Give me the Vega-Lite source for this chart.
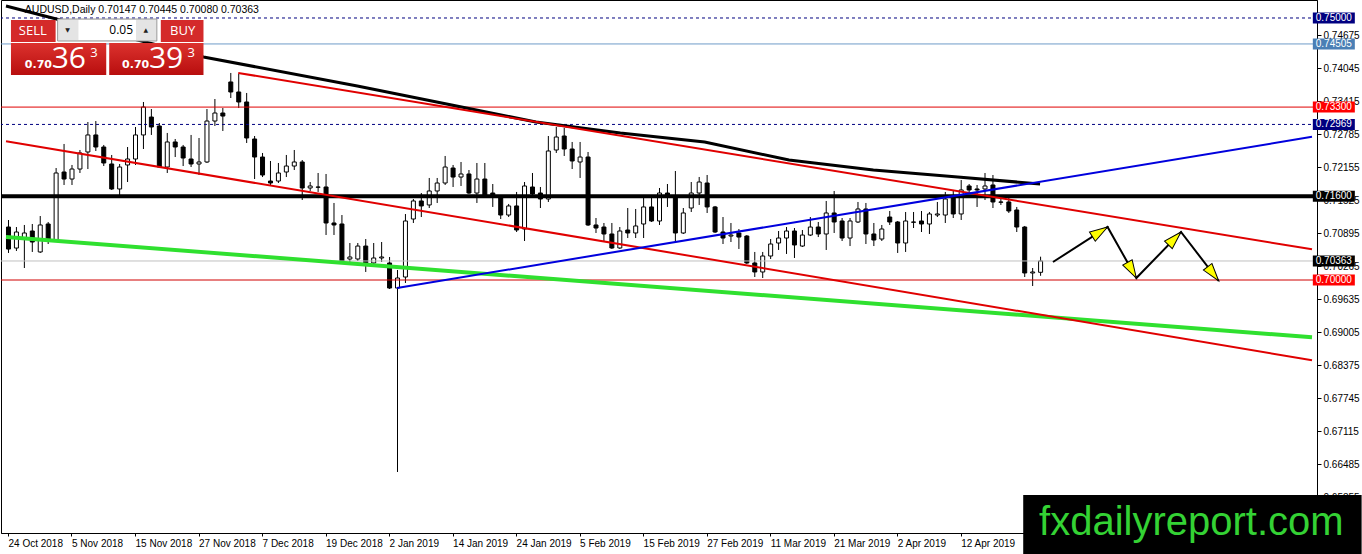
{
"$schema":"https://vega.github.io/schema/vega-lite/v6.json",
"width":1316,"height":533,
"autosize":{"type":"none"},
"padding":{"left":1,"top":0,"right":45,"bottom":21},
"background":"white",
"config":{"view":{"stroke":"#000000","strokeWidth":1}},
"datasets":{
"candles":[
{"i":0,"o":0.71011,"h":0.71145,"l":0.70516,"c":0.70591},
{"i":1,"o":0.70610,"h":0.71011,"l":0.70554,"c":0.70916},
{"i":2,"o":0.70801,"h":0.71050,"l":0.70229,"c":0.70897},
{"i":3,"o":0.70935,"h":0.71069,"l":0.70535,"c":0.70725},
{"i":4,"o":0.70535,"h":0.71221,"l":0.70516,"c":0.71050},
{"i":5,"o":0.71069,"h":0.71107,"l":0.70687,"c":0.70782},
{"i":6,"o":0.70763,"h":0.72137,"l":0.70744,"c":0.72042},
{"i":7,"o":0.72061,"h":0.72596,"l":0.71813,"c":0.71927},
{"i":8,"o":0.71927,"h":0.72195,"l":0.71813,"c":0.72118},
{"i":9,"o":0.72118,"h":0.72481,"l":0.72042,"c":0.72424},
{"i":10,"o":0.72443,"h":0.73015,"l":0.72118,"c":0.72768},
{"i":11,"o":0.72768,"h":0.73034,"l":0.72462,"c":0.72538},
{"i":12,"o":0.72538,"h":0.72577,"l":0.72175,"c":0.72233},
{"i":13,"o":0.72214,"h":0.72386,"l":0.71718,"c":0.71737},
{"i":14,"o":0.71737,"h":0.72214,"l":0.71603,"c":0.72156},
{"i":15,"o":0.72195,"h":0.72538,"l":0.71870,"c":0.72309},
{"i":16,"o":0.72309,"h":0.72920,"l":0.72195,"c":0.72768},
{"i":17,"o":0.72768,"h":0.73397,"l":0.72500,"c":0.73301},
{"i":18,"o":0.73110,"h":0.73263,"l":0.72768,"c":0.72920},
{"i":19,"o":0.72939,"h":0.72996,"l":0.72137,"c":0.72156},
{"i":20,"o":0.72156,"h":0.72806,"l":0.72042,"c":0.72634},
{"i":21,"o":0.72634,"h":0.72691,"l":0.72347,"c":0.72538},
{"i":22,"o":0.72538,"h":0.72577,"l":0.72175,"c":0.72328},
{"i":23,"o":0.72309,"h":0.72768,"l":0.72156,"c":0.72214},
{"i":24,"o":0.72214,"h":0.72710,"l":0.72004,"c":0.72252},
{"i":25,"o":0.72252,"h":0.73263,"l":0.72233,"c":0.73034},
{"i":26,"o":0.73034,"h":0.73454,"l":0.72939,"c":0.73187},
{"i":27,"o":0.73187,"h":0.73282,"l":0.72844,"c":0.73129},
{"i":28,"o":0.73779,"h":0.73951,"l":0.73473,"c":0.73588},
{"i":29,"o":0.73588,"h":0.73932,"l":0.73282,"c":0.73397},
{"i":30,"o":0.73397,"h":0.73569,"l":0.72615,"c":0.72710},
{"i":31,"o":0.72691,"h":0.72748,"l":0.71927,"c":0.72347},
{"i":32,"o":0.72347,"h":0.72424,"l":0.71965,"c":0.72004},
{"i":33,"o":0.71889,"h":0.72271,"l":0.71794,"c":0.71851},
{"i":34,"o":0.71889,"h":0.72233,"l":0.71851,"c":0.72042},
{"i":35,"o":0.72061,"h":0.72386,"l":0.71965,"c":0.72175},
{"i":36,"o":0.72175,"h":0.72481,"l":0.72099,"c":0.72252},
{"i":37,"o":0.72252,"h":0.72290,"l":0.71527,"c":0.71756},
{"i":38,"o":0.71756,"h":0.71870,"l":0.71699,"c":0.71794},
{"i":39,"o":0.71775,"h":0.72042,"l":0.71680,"c":0.71770},
{"i":40,"o":0.71775,"h":0.72023,"l":0.70859,"c":0.71088},
{"i":41,"o":0.71088,"h":0.71470,"l":0.70859,"c":0.71050},
{"i":42,"o":0.71069,"h":0.71240,"l":0.70325,"c":0.70344},
{"i":43,"o":0.70401,"h":0.70706,"l":0.70344,"c":0.70439},
{"i":44,"o":0.70401,"h":0.70706,"l":0.70363,"c":0.70648},
{"i":45,"o":0.70648,"h":0.70782,"l":0.70153,"c":0.70325},
{"i":46,"o":0.70325,"h":0.70706,"l":0.70286,"c":0.70420},
{"i":47,"o":0.70420,"h":0.70725,"l":0.70344,"c":0.70439},
{"i":48,"o":0.70325,"h":0.70439,"l":0.69828,"c":0.69847},
{"i":49,"o":0.69847,"h":0.70191,"l":0.66336,"c":0.70038},
{"i":50,"o":0.70057,"h":0.71259,"l":0.69943,"c":0.71126},
{"i":51,"o":0.71164,"h":0.71546,"l":0.71088,"c":0.71508},
{"i":52,"o":0.71508,"h":0.71660,"l":0.71202,"c":0.71413},
{"i":53,"o":0.71432,"h":0.71947,"l":0.71374,"c":0.71699},
{"i":54,"o":0.71699,"h":0.71947,"l":0.71470,"c":0.71851},
{"i":55,"o":0.71851,"h":0.72367,"l":0.71813,"c":0.72156},
{"i":56,"o":0.72137,"h":0.72195,"l":0.71775,"c":0.71965},
{"i":57,"o":0.71965,"h":0.72252,"l":0.71794,"c":0.72023},
{"i":58,"o":0.72023,"h":0.72099,"l":0.71641,"c":0.71660},
{"i":59,"o":0.71660,"h":0.72233,"l":0.71470,"c":0.71927},
{"i":60,"o":0.71927,"h":0.72233,"l":0.71584,"c":0.71622},
{"i":61,"o":0.71660,"h":0.71832,"l":0.71394,"c":0.71603},
{"i":62,"o":0.71565,"h":0.71603,"l":0.71164,"c":0.71240},
{"i":63,"o":0.71240,"h":0.71451,"l":0.71202,"c":0.71413},
{"i":64,"o":0.71413,"h":0.71680,"l":0.70916,"c":0.70954},
{"i":65,"o":0.70973,"h":0.71870,"l":0.70744,"c":0.71794},
{"i":66,"o":0.71775,"h":0.72042,"l":0.71584,"c":0.71641},
{"i":67,"o":0.71660,"h":0.71775,"l":0.71374,"c":0.71546},
{"i":68,"o":0.71546,"h":0.72748,"l":0.71489,"c":0.72462},
{"i":69,"o":0.72481,"h":0.72920,"l":0.72424,"c":0.72729},
{"i":70,"o":0.72748,"h":0.72901,"l":0.72367,"c":0.72500},
{"i":71,"o":0.72500,"h":0.72634,"l":0.72118,"c":0.72271},
{"i":72,"o":0.72252,"h":0.72634,"l":0.71947,"c":0.72347},
{"i":73,"o":0.72347,"h":0.72443,"l":0.71031,"c":0.71050},
{"i":74,"o":0.71050,"h":0.71183,"l":0.70897,"c":0.70992},
{"i":75,"o":0.71011,"h":0.71088,"l":0.70725,"c":0.70878},
{"i":76,"o":0.70878,"h":0.71088,"l":0.70592,"c":0.70611},
{"i":77,"o":0.70611,"h":0.71011,"l":0.70592,"c":0.70935},
{"i":78,"o":0.70954,"h":0.71374,"l":0.70801,"c":0.70897},
{"i":79,"o":0.70897,"h":0.71355,"l":0.70801,"c":0.71031},
{"i":80,"o":0.71069,"h":0.71622,"l":0.70801,"c":0.71394},
{"i":81,"o":0.71394,"h":0.71565,"l":0.71107,"c":0.71126},
{"i":82,"o":0.71126,"h":0.71756,"l":0.71050,"c":0.71660},
{"i":83,"o":0.71660,"h":0.71832,"l":0.71394,"c":0.71584},
{"i":84,"o":0.71584,"h":0.72080,"l":0.70744,"c":0.70897},
{"i":85,"o":0.70897,"h":0.71374,"l":0.70878,"c":0.71279},
{"i":86,"o":0.71374,"h":0.71870,"l":0.71298,"c":0.71660},
{"i":87,"o":0.71660,"h":0.71966,"l":0.71432,"c":0.71870},
{"i":88,"o":0.71851,"h":0.72004,"l":0.71279,"c":0.71394},
{"i":89,"o":0.71394,"h":0.71413,"l":0.70897,"c":0.70916},
{"i":90,"o":0.70916,"h":0.71202,"l":0.70687,"c":0.70801},
{"i":91,"o":0.70839,"h":0.71088,"l":0.70725,"c":0.70858},
{"i":92,"o":0.70897,"h":0.70973,"l":0.70592,"c":0.70820},
{"i":93,"o":0.70839,"h":0.70858,"l":0.70306,"c":0.70325},
{"i":94,"o":0.70325,"h":0.70535,"l":0.70057,"c":0.70153},
{"i":95,"o":0.70153,"h":0.70535,"l":0.70038,"c":0.70458},
{"i":96,"o":0.70458,"h":0.70782,"l":0.70401,"c":0.70687},
{"i":97,"o":0.70706,"h":0.70935,"l":0.70573,"c":0.70801},
{"i":98,"o":0.70801,"h":0.71011,"l":0.70497,"c":0.70935},
{"i":99,"o":0.70935,"h":0.70992,"l":0.70420,"c":0.70668},
{"i":100,"o":0.70648,"h":0.70954,"l":0.70630,"c":0.70858},
{"i":101,"o":0.70858,"h":0.71202,"l":0.70839,"c":0.71011},
{"i":102,"o":0.71011,"h":0.71107,"l":0.70820,"c":0.70878},
{"i":103,"o":0.70878,"h":0.71508,"l":0.70573,"c":0.71279},
{"i":104,"o":0.71279,"h":0.71699,"l":0.70897,"c":0.71107},
{"i":105,"o":0.71126,"h":0.71183,"l":0.70744,"c":0.70801},
{"i":106,"o":0.70801,"h":0.71183,"l":0.70648,"c":0.71126},
{"i":107,"o":0.71107,"h":0.71489,"l":0.71088,"c":0.71355},
{"i":108,"o":0.71355,"h":0.71470,"l":0.70687,"c":0.70878},
{"i":109,"o":0.70878,"h":0.71088,"l":0.70648,"c":0.70763},
{"i":110,"o":0.70782,"h":0.71050,"l":0.70744,"c":0.70973},
{"i":111,"o":0.71202,"h":0.71317,"l":0.71050,"c":0.71107},
{"i":112,"o":0.71107,"h":0.71126,"l":0.70516,"c":0.70706},
{"i":113,"o":0.70706,"h":0.71298,"l":0.70535,"c":0.71126},
{"i":114,"o":0.71107,"h":0.71298,"l":0.70992,"c":0.71102},
{"i":115,"o":0.71126,"h":0.71317,"l":0.70916,"c":0.71069},
{"i":116,"o":0.71069,"h":0.71298,"l":0.70878,"c":0.71260},
{"i":117,"o":0.71240,"h":0.71489,"l":0.71202,"c":0.71260},
{"i":118,"o":0.71240,"h":0.71680,"l":0.71088,"c":0.71546},
{"i":119,"o":0.71584,"h":0.71718,"l":0.71183,"c":0.71260},
{"i":120,"o":0.71260,"h":0.71908,"l":0.71145,"c":0.71718},
{"i":121,"o":0.71794,"h":0.71832,"l":0.71660,"c":0.71718},
{"i":122,"o":0.71737,"h":0.71813,"l":0.71394,"c":0.71718},
{"i":123,"o":0.71737,"h":0.72042,"l":0.71527,"c":0.71794},
{"i":124,"o":0.71813,"h":0.72004,"l":0.71374,"c":0.71489},
{"i":125,"o":0.71489,"h":0.71565,"l":0.71432,"c":0.71484},
{"i":126,"o":0.71489,"h":0.71565,"l":0.71279,"c":0.71317},
{"i":127,"o":0.71336,"h":0.71394,"l":0.70916,"c":0.71011},
{"i":128,"o":0.71011,"h":0.71031,"l":0.70057,"c":0.70134},
{"i":129,"o":0.70134,"h":0.70229,"l":0.69885,"c":0.70153},
{"i":130,"o":0.70147,"h":0.70445,"l":0.70080,"c":0.70363}
],
"lines":[
{"line":"ma","i":-0.25,"p":0.75229},
{"line":"ma","i":24.625,"p":0.74256},
{"line":"ma","i":44,"p":0.73702},
{"line":"ma","i":55.875,"p":0.73340},
{"line":"ma","i":66.5,"p":0.73015},
{"line":"ma","i":77.125,"p":0.72805},
{"line":"ma","i":87.75,"p":0.72634},
{"line":"ma","i":98.375,"p":0.72290},
{"line":"ma","i":109,"p":0.72099},
{"line":"ma","i":119.625,"p":0.71966},
{"line":"ma","i":130,"p":0.71832},
{"line":"channel top","i":29,"p":0.73951},
{"line":"channel top","i":164.25,"p":0.70585},
{"line":"channel bottom","i":-0.25,"p":0.72649},
{"line":"channel bottom","i":164.25,"p":0.68469},
{"line":"green trend","i":-0.25,"p":0.70821},
{"line":"green trend","i":164.25,"p":0.68908},
{"line":"blue trend","i":49,"p":0.69847},
{"line":"blue trend","i":164.25,"p":0.72733}
],
"levels":[
{"kind":"round","p":0.75},
{"kind":"high","p":0.74505},
{"kind":"res","p":0.733},
{"kind":"swing","p":0.72969},
{"kind":"key","p":0.716},
{"kind":"bid","p":0.70363},
{"kind":"support","p":0.70}
],
"arrow":[
{"step":1,"i":131.625,"p":0.70343},
{"step":2,"i":138.5,"p":0.71011},
{"step":3,"i":142.125,"p":0.70038},
{"step":4,"i":147.75,"p":0.70916},
{"step":5,"i":152.5,"p":0.69981}
]
},
"resolve":{"scale":{"color":"independent","fill":"independent"}},
"layer":[
{"data":{"name":"candles"},
 "mark":{"type":"rule","color":"#000000","strokeWidth":1,"xOffset":0.5},
 "encoding":{
  "x":{"field":"i","type":"quantitative","scale":{"domain":[-0.25,164.25],"nice":false,"zero":false},
   "axis":{"values":[0,8,16,24,32,40,48,56,64,72,80,88,96,104,112,120],"tickCount":40,
    "labelExpr":"['24 Oct 2018','5 Nov 2018','15 Nov 2018','27 Nov 2018','7 Dec 2018','19 Dec 2018','2 Jan 2019','14 Jan 2019','24 Jan 2019','5 Feb 2019','15 Feb 2019','27 Feb 2019','11 Mar 2019','21 Mar 2019','2 Apr 2019','12 Apr 2019'][round(datum.value/8)]",
    "labelAlign":"left","labelFont":"Liberation Sans","labelFontSize":10,"labelColor":"#000000","tickColor":"#000000","tickSize":3,"labelPadding":2,"domainColor":"#000000","grid":false,"title":null,"labelOverlap":false,"labelFlush":false,"labelBound":false}},
  "y":{"field":"l","type":"quantitative","scale":{"domain":[0.651718,0.753435],"nice":false,"zero":false},
   "axis":{"orient":"right","values":[0.74675,0.74045,0.73415,0.72785,0.72155,0.71525,0.70895,0.70265,0.69635,0.69005,0.68375,0.67745,0.67115,0.66485,0.65855],"tickCount":40,
    "format":".5f","labelFont":"Liberation Sans","labelFontSize":10,"labelColor":"#000000","tickColor":"#000000","tickSize":4,"labelPadding":2,"domainColor":"#000000","grid":false,"title":null,"labelOverlap":false,"labelFlush":false,"labelBound":false}},
  "y2":{"field":"h"}}},
{"data":{"name":"candles"},
 "mark":{"type":"bar","width":4,"xOffset":0.5,"stroke":"#000000","strokeWidth":1},
 "encoding":{
  "x":{"field":"i","type":"quantitative","scale":{"domain":[-0.25,164.25],"nice":false,"zero":false}},
  "y":{"field":"o","type":"quantitative","scale":{"domain":[0.651718,0.753435],"nice":false,"zero":false}},
  "y2":{"field":"c"},
  "fill":{"condition":{"test":"datum.c >= datum.o","value":"#ffffff"},"value":"#000000"}}},
{"data":{"name":"levels"},
 "mark":{"type":"rule"},
 "encoding":{
  "y":{"field":"p","type":"quantitative","scale":{"domain":[0.651718,0.753435],"nice":false,"zero":false}},
  "color":{"field":"kind","type":"nominal","legend":null,"scale":{"domain":["round","high","res","swing","key","bid","support"],"range":["#000080","#6f9cc8","#e00000","#000080","#000000","#c0c0c0","#d00000"]}},
  "strokeWidth":{"condition":{"test":"datum.kind == 'key'","value":4},"value":1},
  "strokeDash":{"condition":{"test":"datum.kind == 'round' || datum.kind == 'swing'","value":[3,3]},"value":[1,0]}}},
{"data":{"name":"lines"},"transform":[{"filter":"datum.line == 'ma'"}],
 "mark":{"type":"line","color":"#000000","strokeWidth":3},
 "encoding":{
  "x":{"field":"i","type":"quantitative","scale":{"domain":[-0.25,164.25],"nice":false,"zero":false}},
  "y":{"field":"p","type":"quantitative","scale":{"domain":[0.651718,0.753435],"nice":false,"zero":false}}}},
{"data":{"name":"lines"},"transform":[{"filter":"datum.line == 'green trend'"}],
 "mark":{"type":"line","color":"#2fe02f","strokeWidth":4},
 "encoding":{
  "x":{"field":"i","type":"quantitative","scale":{"domain":[-0.25,164.25],"nice":false,"zero":false}},
  "y":{"field":"p","type":"quantitative","scale":{"domain":[0.651718,0.753435],"nice":false,"zero":false}}}},
{"data":{"name":"lines"},"transform":[{"filter":"datum.line == 'channel top' || datum.line == 'channel bottom'"}],
 "mark":{"type":"line","color":"#e00000","strokeWidth":2},
 "encoding":{
  "x":{"field":"i","type":"quantitative","scale":{"domain":[-0.25,164.25],"nice":false,"zero":false}},
  "y":{"field":"p","type":"quantitative","scale":{"domain":[0.651718,0.753435],"nice":false,"zero":false}},
  "detail":{"field":"line"}}},
{"data":{"name":"lines"},"transform":[{"filter":"datum.line == 'blue trend'"}],
 "mark":{"type":"line","color":"#0000dd","strokeWidth":2},
 "encoding":{
  "x":{"field":"i","type":"quantitative","scale":{"domain":[-0.25,164.25],"nice":false,"zero":false}},
  "y":{"field":"p","type":"quantitative","scale":{"domain":[0.651718,0.753435],"nice":false,"zero":false}}}},
{"data":{"name":"arrow"},
 "mark":{"type":"line","color":"#000000","strokeWidth":2},
 "encoding":{
  "x":{"field":"i","type":"quantitative","scale":{"domain":[-0.25,164.25],"nice":false,"zero":false}},
  "y":{"field":"p","type":"quantitative","scale":{"domain":[0.651718,0.753435],"nice":false,"zero":false}},
  "order":{"field":"step"}}},
{"data":{"name":"arrow"},"transform":[{"filter":"datum.step == 2"}],
 "mark":{"type":"point","shape":"M0,0L-0.3,1L0.3,1Z","filled":true,"fill":"#ffff00","stroke":"#000000","strokeWidth":1,"size":1296,"opacity":1,"angle":57.5},
 "encoding":{
  "x":{"field":"i","type":"quantitative","scale":{"domain":[-0.25,164.25],"nice":false,"zero":false}},
  "y":{"field":"p","type":"quantitative","scale":{"domain":[0.651718,0.753435],"nice":false,"zero":false}}}},
{"data":{"name":"arrow"},"transform":[{"filter":"datum.step == 3"}],
 "mark":{"type":"point","shape":"M0,0L-0.3,1L0.3,1Z","filled":true,"fill":"#ffff00","stroke":"#000000","strokeWidth":1,"size":1296,"opacity":1,"angle":150.4},
 "encoding":{
  "x":{"field":"i","type":"quantitative","scale":{"domain":[-0.25,164.25],"nice":false,"zero":false}},
  "y":{"field":"p","type":"quantitative","scale":{"domain":[0.651718,0.753435],"nice":false,"zero":false}}}},
{"data":{"name":"arrow"},"transform":[{"filter":"datum.step == 4"}],
 "mark":{"type":"point","shape":"M0,0L-0.3,1L0.3,1Z","filled":true,"fill":"#ffff00","stroke":"#000000","strokeWidth":1,"size":1296,"opacity":1,"angle":44.4},
 "encoding":{
  "x":{"field":"i","type":"quantitative","scale":{"domain":[-0.25,164.25],"nice":false,"zero":false}},
  "y":{"field":"p","type":"quantitative","scale":{"domain":[0.651718,0.753435],"nice":false,"zero":false}}}},
{"data":{"name":"arrow"},"transform":[{"filter":"datum.step == 5"}],
 "mark":{"type":"point","shape":"M0,0L-0.3,1L0.3,1Z","filled":true,"fill":"#ffff00","stroke":"#000000","strokeWidth":1,"size":1296,"opacity":1,"angle":142.2},
 "encoding":{
  "x":{"field":"i","type":"quantitative","scale":{"domain":[-0.25,164.25],"nice":false,"zero":false}},
  "y":{"field":"p","type":"quantitative","scale":{"domain":[0.651718,0.753435],"nice":false,"zero":false}}}},
{"data":{"values":[{}]},
 "mark":{"type":"text","text":"AUDUSD,Daily  0.70147 0.70445 0.70080 0.70363","font":"Liberation Sans","fontSize":10.5,"color":"#000000","align":"left","baseline":"alphabetic"},
 "encoding":{
  "x":{"datum":2.125,"type":"quantitative","scale":{"domain":[-0.25,164.25],"nice":false,"zero":false}},
  "y":{"datum":0.75095,"type":"quantitative","scale":{"domain":[0.651718,0.753435],"nice":false,"zero":false}}}},
{"data":{"values":[{}]},
 "mark":{"type":"rect","fill":"#d42a2a"},
 "encoding":{
  "x":{"datum":0.375,"type":"quantitative","scale":{"domain":[-0.25,164.25],"nice":false,"zero":false}},"x2":{"datum":6.0},
  "y":{"datum":0.74962,"type":"quantitative","scale":{"domain":[0.651718,0.753435],"nice":false,"zero":false}},"y2":{"datum":0.74542}}},
{"data":{"values":[{}]},
 "mark":{"type":"rect","fill":"#d42a2a"},
 "encoding":{
  "x":{"datum":19.25,"type":"quantitative","scale":{"domain":[-0.25,164.25],"nice":false,"zero":false}},"x2":{"datum":24.625},
  "y":{"datum":0.74962,"type":"quantitative","scale":{"domain":[0.651718,0.753435],"nice":false,"zero":false}},"y2":{"datum":0.74542}}},
{"data":{"values":[{}]},
 "mark":{"type":"rect","fill":"#e4e4e4","stroke":"#9a9a9a","strokeWidth":1},
 "encoding":{
  "x":{"datum":6.25,"type":"quantitative","scale":{"domain":[-0.25,164.25],"nice":false,"zero":false}},"x2":{"datum":18.75},
  "y":{"datum":0.74981,"type":"quantitative","scale":{"domain":[0.651718,0.753435],"nice":false,"zero":false}},"y2":{"datum":0.74561}}},
{"data":{"values":[{}]},
 "mark":{"type":"rect","fill":"#ffffff"},
 "encoding":{
  "x":{"datum":8.875,"type":"quantitative","scale":{"domain":[-0.25,164.25],"nice":false,"zero":false}},"x2":{"datum":16.125},
  "y":{"datum":0.74962,"type":"quantitative","scale":{"domain":[0.651718,0.753435],"nice":false,"zero":false}},"y2":{"datum":0.74580}}},
{"data":{"values":[{}]},
 "mark":{"type":"rect","fill":{"gradient":"linear","x1":0,"y1":0,"x2":0,"y2":1,"stops":[{"offset":0,"color":"#dc322e"},{"offset":1,"color":"#b80e0e"}]}},
 "encoding":{
  "x":{"datum":0.375,"type":"quantitative","scale":{"domain":[-0.25,164.25],"nice":false,"zero":false}},"x2":{"datum":12.375},
  "y":{"datum":0.74523,"type":"quantitative","scale":{"domain":[0.651718,0.753435],"nice":false,"zero":false}},"y2":{"datum":0.73912}}},
{"data":{"values":[{}]},
 "mark":{"type":"rect","fill":{"gradient":"linear","x1":0,"y1":0,"x2":0,"y2":1,"stops":[{"offset":0,"color":"#dc322e"},{"offset":1,"color":"#b80e0e"}]}},
 "encoding":{
  "x":{"datum":12.75,"type":"quantitative","scale":{"domain":[-0.25,164.25],"nice":false,"zero":false}},"x2":{"datum":24.625},
  "y":{"datum":0.74523,"type":"quantitative","scale":{"domain":[0.651718,0.753435],"nice":false,"zero":false}},"y2":{"datum":0.73912}}},
{"data":{"values":[{}]},
 "mark":{"type":"text","text":"SELL","font":"Open Sans","fontSize":13,"color":"#ffffff","align":"center","baseline":"middle"},
 "encoding":{
  "x":{"datum":3.125,"type":"quantitative","scale":{"domain":[-0.25,164.25],"nice":false,"zero":false}},
  "y":{"datum":0.74752,"type":"quantitative","scale":{"domain":[0.651718,0.753435],"nice":false,"zero":false}}}},
{"data":{"values":[{}]},
 "mark":{"type":"text","text":"BUY","font":"Open Sans","fontSize":13,"color":"#ffffff","align":"center","baseline":"middle"},
 "encoding":{
  "x":{"datum":22.0,"type":"quantitative","scale":{"domain":[-0.25,164.25],"nice":false,"zero":false}},
  "y":{"datum":0.74752,"type":"quantitative","scale":{"domain":[0.651718,0.753435],"nice":false,"zero":false}}}},
{"data":{"values":[{}]},
 "mark":{"type":"text","text":"0.05","font":"Open Sans","fontSize":12,"color":"#000000","align":"right","baseline":"middle"},
 "encoding":{
  "x":{"datum":15.75,"type":"quantitative","scale":{"domain":[-0.25,164.25],"nice":false,"zero":false}},
  "y":{"datum":0.74771,"type":"quantitative","scale":{"domain":[0.651718,0.753435],"nice":false,"zero":false}}}},
{"data":{"values":[{}]},
 "mark":{"type":"text","text":"▼","font":"DejaVu Sans","fontSize":6,"color":"#222222","align":"center","baseline":"middle"},
 "encoding":{
  "x":{"datum":7.5,"type":"quantitative","scale":{"domain":[-0.25,164.25],"nice":false,"zero":false}},
  "y":{"datum":0.74771,"type":"quantitative","scale":{"domain":[0.651718,0.753435],"nice":false,"zero":false}}}},
{"data":{"values":[{}]},
 "mark":{"type":"text","text":"▲","font":"DejaVu Sans","fontSize":6,"color":"#222222","align":"center","baseline":"middle"},
 "encoding":{
  "x":{"datum":17.375,"type":"quantitative","scale":{"domain":[-0.25,164.25],"nice":false,"zero":false}},
  "y":{"datum":0.74771,"type":"quantitative","scale":{"domain":[0.651718,0.753435],"nice":false,"zero":false}}}},
{"data":{"values":[{}]},
 "mark":{"type":"text","text":"0.70","font":"DejaVu Sans","fontWeight":"bold","fontSize":11,"color":"#ffffff","align":"left","baseline":"alphabetic"},
 "encoding":{
  "x":{"datum":2.125,"type":"quantitative","scale":{"domain":[-0.25,164.25],"nice":false,"zero":false}},
  "y":{"datum":0.74046,"type":"quantitative","scale":{"domain":[0.651718,0.753435],"nice":false,"zero":false}}}},
{"data":{"values":[{}]},
 "mark":{"type":"text","text":"36","font":"Open Sans","fontSize":30,"color":"#ffffff","align":"left","baseline":"alphabetic"},
 "encoding":{
  "x":{"datum":5.5,"type":"quantitative","scale":{"domain":[-0.25,164.25],"nice":false,"zero":false}},
  "y":{"datum":0.74046,"type":"quantitative","scale":{"domain":[0.651718,0.753435],"nice":false,"zero":false}}}},
{"data":{"values":[{}]},
 "mark":{"type":"text","text":"3","font":"Open Sans","fontSize":13,"color":"#ffffff","align":"left","baseline":"alphabetic"},
 "encoding":{
  "x":{"datum":10.375,"type":"quantitative","scale":{"domain":[-0.25,164.25],"nice":false,"zero":false}},
  "y":{"datum":0.74256,"type":"quantitative","scale":{"domain":[0.651718,0.753435],"nice":false,"zero":false}}}},
{"data":{"values":[{}]},
 "mark":{"type":"text","text":"0.70","font":"DejaVu Sans","fontWeight":"bold","fontSize":11,"color":"#ffffff","align":"left","baseline":"alphabetic"},
 "encoding":{
  "x":{"datum":14.375,"type":"quantitative","scale":{"domain":[-0.25,164.25],"nice":false,"zero":false}},
  "y":{"datum":0.74046,"type":"quantitative","scale":{"domain":[0.651718,0.753435],"nice":false,"zero":false}}}},
{"data":{"values":[{}]},
 "mark":{"type":"text","text":"39","font":"Open Sans","fontSize":30,"color":"#ffffff","align":"left","baseline":"alphabetic"},
 "encoding":{
  "x":{"datum":17.75,"type":"quantitative","scale":{"domain":[-0.25,164.25],"nice":false,"zero":false}},
  "y":{"datum":0.74046,"type":"quantitative","scale":{"domain":[0.651718,0.753435],"nice":false,"zero":false}}}},
{"data":{"values":[{}]},
 "mark":{"type":"text","text":"3","font":"Open Sans","fontSize":13,"color":"#ffffff","align":"left","baseline":"alphabetic"},
 "encoding":{
  "x":{"datum":22.625,"type":"quantitative","scale":{"domain":[-0.25,164.25],"nice":false,"zero":false}},
  "y":{"datum":0.74256,"type":"quantitative","scale":{"domain":[0.651718,0.753435],"nice":false,"zero":false}}}},
{"data":{"values":[{}]},
 "mark":{"type":"rect","fill":"#000000"},
 "encoding":{
  "x":{"datum":127.875,"type":"quantitative","scale":{"domain":[-0.25,164.25],"nice":false,"zero":false}},"x2":{"datum":170.5},
  "y":{"datum":0.65897,"type":"quantitative","scale":{"domain":[0.651718,0.753435],"nice":false,"zero":false}},"y2":{"datum":0.6470}}},
{"data":{"values":[{}]},
 "mark":{"type":"text","text":"fxdailyreport.com","font":"Liberation Sans","fontSize":40,"color":"#34d234","align":"left","baseline":"alphabetic"},
 "encoding":{
  "x":{"datum":129.875,"type":"quantitative","scale":{"domain":[-0.25,164.25],"nice":false,"zero":false}},
  "y":{"datum":0.65134,"type":"quantitative","scale":{"domain":[0.651718,0.753435],"nice":false,"zero":false}}}},
{"data":{"name":"levels"},
 "mark":{"type":"point","shape":"M-1,-0.262L1,-0.262L1,0.262L-1,0.262Z","filled":true,"size":1764,"opacity":1,"strokeWidth":0},
 "encoding":{
  "x":{"datum":167.0,"type":"quantitative","scale":{"domain":[-0.25,164.25],"nice":false,"zero":false}},
  "y":{"field":"p","type":"quantitative","scale":{"domain":[0.651718,0.753435],"nice":false,"zero":false}},
  "fill":{"field":"kind","type":"nominal","legend":null,"scale":{"domain":["round","high","res","swing","key","bid","support"],"range":["#000080","#4a7fb5","#ff0000","#000080","#000000","#000000","#ff0000"]}}}},
{"data":{"name":"levels"},
 "mark":{"type":"text","font":"Liberation Sans","fontSize":10,"color":"#ffffff","align":"center","baseline":"middle"},
 "encoding":{
  "x":{"datum":167.0,"type":"quantitative","scale":{"domain":[-0.25,164.25],"nice":false,"zero":false}},
  "y":{"field":"p","type":"quantitative","scale":{"domain":[0.651718,0.753435],"nice":false,"zero":false}},
  "text":{"field":"p","type":"quantitative","format":".5f"}}}
]
}
